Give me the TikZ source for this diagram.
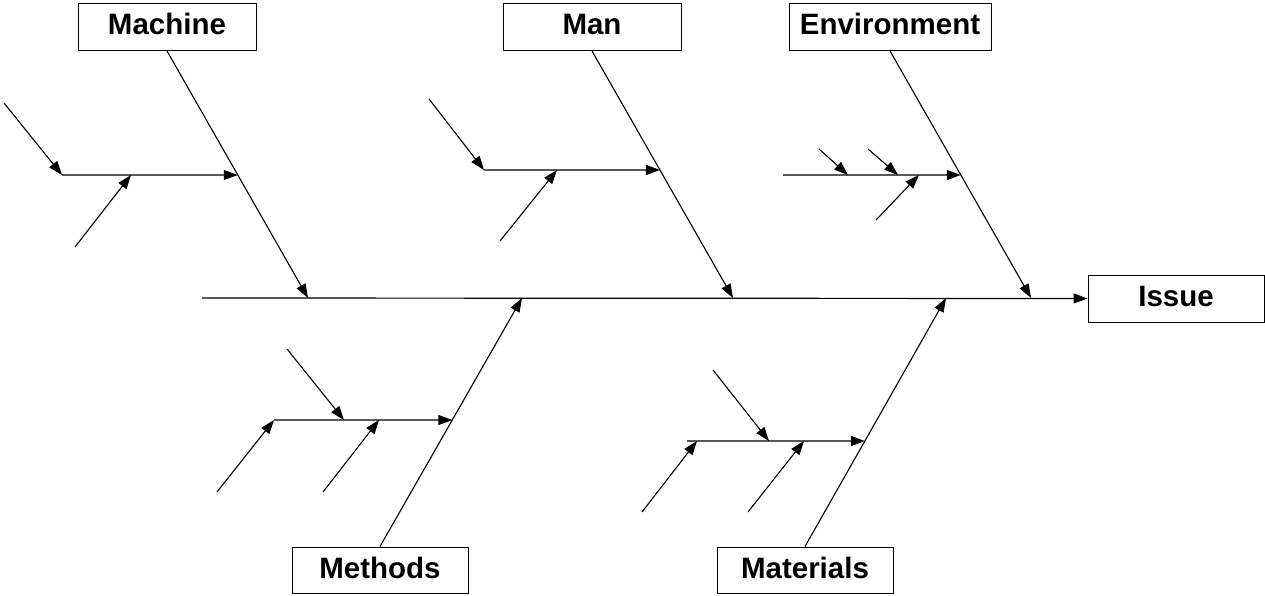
\documentclass[tikz,border=0pt]{standalone}
\usepackage{fontspec}
\setmainfont{Liberation Sans}
\usetikzlibrary{arrows.meta,calc}
\begin{document}
\begin{tikzpicture}[x=1pt,y=-1pt,
  box/.style={draw, line width=1pt, inner sep=0pt, minimum height=47pt,
    text height=22pt, text depth=6pt,
    font=\fontsize{29.5}{31}\selectfont\bfseries},
  ln/.style={line width=1.1pt},
  arr/.style={ln, -{Triangle[length=14pt,width=10pt]}}]
\useasboundingbox (0,0) rectangle (1265,596);
% category boxes
\node[box, minimum width=178pt] (machine) at (167,27) {Machine};
\node[box, minimum width=178pt] (man) at (592,27) {Man};
\node[box, minimum width=202pt] (env) at (890,27) {Environment};
\node[box, minimum width=176pt] (issue) at (1176,298.5) {Issue};
\node[box, minimum width=176pt, minimum height=46pt] (methods) at (380,570) {Methods};
\node[box, minimum width=176pt, minimum height=46pt] (materials) at (805,570) {Materials};
% spine
\coordinate (tail) at (202,298);
\draw[arr, line width=1.2pt] (tail) -- (issue.west);
% bone ends on spine
\coordinate (machE) at (308,298);
\coordinate (manE) at (733,298);
\coordinate (envE) at (1031,298);
\coordinate (methE) at (522,298);
\coordinate (matE) at (946,298);
\draw[arr] (machine.south) -- (machE);
\draw[arr] (man.south) -- (manE);
\draw[arr] (env.south) -- (envE);
\draw[arr] (methods.north) -- (methE);
\draw[arr] (materials.north) -- (matE);
% Machine sub-cause
\coordinate (ms) at (62,175);
\coordinate (msE) at (intersection of machine.south--machE and ms--{(400,175)});
\draw[arr] (ms) -- (msE);
\coordinate (ma1) at (4,103);
\coordinate (ma2) at (75,247);
\coordinate (ma2E) at (131,175);
\draw[arr] (ma1) -- (ms);
\draw[arr] (ma2) -- (ma2E);
% Man sub-cause
\coordinate (mns) at (484,170);
\coordinate (mnsE) at (intersection of man.south--manE and mns--{(800,170)});
\draw[arr] (mns) -- (mnsE);
\coordinate (mn1) at (429,99);
\coordinate (mn2) at (500,241);
\coordinate (mn2E) at (557,170);
\draw[arr] (mn1) -- (mns);
\draw[arr] (mn2) -- (mn2E);
% Environment sub-cause
\coordinate (es) at (783,175);
\coordinate (esE) at (intersection of env.south--envE and es--{(1100,175)});
\draw[arr] (es) -- (esE);
\coordinate (e1) at (819,149);
\coordinate (e1E) at (848,175);
\coordinate (e2) at (868,149);
\coordinate (e2E) at (898,175);
\coordinate (e3) at (876,220);
\coordinate (e3E) at (919,175);
\draw[arr] (e1) -- (e1E);
\draw[arr] (e2) -- (e2E);
\draw[arr] (e3) -- (e3E);
% Methods sub-cause
\coordinate (mts) at (274,420);
\coordinate (mtsE) at (intersection of methods.north--methE and mts--{(600,420)});
\draw[arr] (mts) -- (mtsE);
\coordinate (mt1) at (287,349);
\coordinate (mt1E) at (344,420);
\coordinate (mt2) at (217,492);
\coordinate (mt3) at (323,492);
\coordinate (mt3E) at (379,420);
\draw[arr] (mt1) -- (mt1E);
\draw[arr] (mt2) -- (mts);
\draw[arr] (mt3) -- (mt3E);
% Materials sub-cause
\coordinate (mls) at (687,441);
\coordinate (mlsE) at (intersection of materials.north--matE and mls--{(1000,441)});
\draw[arr] (mls) -- (mlsE);
\coordinate (ml1) at (713,370);
\coordinate (ml1E) at (769,441);
\coordinate (ml2) at (642,512);
\coordinate (ml2E) at (697,441);
\coordinate (ml3) at (748,512);
\coordinate (ml3E) at (804,441);
\draw[arr] (ml1) -- (ml1E);
\draw[arr] (ml2) -- (ml2E);
\draw[arr] (ml3) -- (ml3E);
\end{tikzpicture}
\end{document}
